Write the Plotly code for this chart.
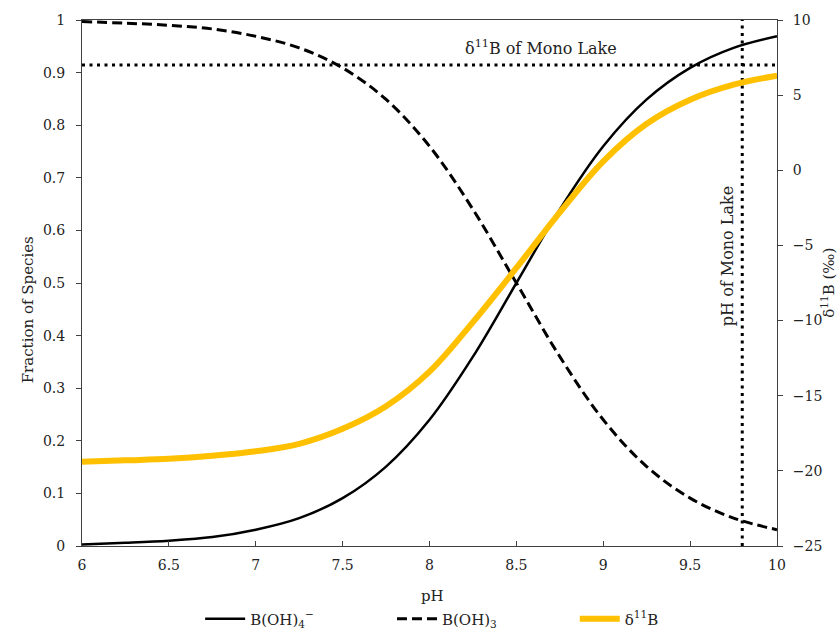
import plotly.graph_objects as go

# pH values
ph = [6.0, 6.25, 6.5, 6.75, 7.0, 7.25, 7.5, 7.75, 8.0, 8.25, 8.5, 8.75, 9.0, 9.25, 9.5, 9.75, 10.0]
# Fraction of borate B(OH)4-
borate = [0.003, 0.006, 0.010, 0.017, 0.031, 0.053, 0.091, 0.151, 0.240, 0.360, 0.500, 0.640, 0.760, 0.849, 0.909, 0.947, 0.969]
# Fraction of boric acid B(OH)3
boric = [0.997, 0.994, 0.990, 0.983, 0.969, 0.947, 0.909, 0.849, 0.760, 0.640, 0.500, 0.360, 0.240, 0.151, 0.091, 0.053, 0.031]
# delta 11B of borate (permil)
d11b = [-19.4, -19.3, -19.2, -19.0, -18.7, -18.2, -17.2, -15.7, -13.4, -10.1, -6.5, -2.8, 0.6, 3.1, 4.7, 5.7, 6.3]

mono_d11b = 7.0   # right-axis value of horizontal dotted line
mono_ph = 9.8     # pH of Mono Lake

x_ticks = [6, 6.5, 7, 7.5, 8, 8.5, 9, 9.5, 10]
x_tick_text = ["6", "6.5", "7", "7.5", "8", "8.5", "9", "9.5", "10"]
y_ticks = [0, 0.1, 0.2, 0.3, 0.4, 0.5, 0.6, 0.7, 0.8, 0.9, 1]
y_tick_text = ["0", "0.1", "0.2", "0.3", "0.4", "0.5", "0.6", "0.7", "0.8", "0.9", "1"]
y2_ticks = [-25, -20, -15, -10, -5, 0, 5, 10]

FONT = "DejaVu Serif"
AX = "#404040"
TXT = "#222222"
GOLD = "#FFC000"

fig = go.Figure()

# reference lines
fig.add_trace(go.Scatter(x=[6, 10], y=[mono_d11b, mono_d11b], yaxis="y2", mode="lines",
                         line=dict(color="black", width=3, dash="3px,4.5px"), showlegend=False, hoverinfo="skip"))
fig.add_trace(go.Scatter(x=[mono_ph, mono_ph], y=[0, 1], mode="lines",
                         line=dict(color="black", width=3, dash="3px,4.5px"), showlegend=False, hoverinfo="skip"))

fig.add_trace(go.Scatter(x=ph, y=borate, mode="lines", name="B(OH)<sub>4</sub><sup>−</sup>",
                         line=dict(color="black", width=2.5, shape="spline"), legend="legend"))
fig.add_trace(go.Scatter(x=ph, y=boric, mode="lines", name="B(OH)<sub>3</sub>",
                         line=dict(color="black", width=3, dash="10px,5px", shape="spline"), legend="legend2"))
fig.add_trace(go.Scatter(x=ph, y=d11b, mode="lines", name="δ<sup>11</sup>B", yaxis="y2",
                         line=dict(color=GOLD, width=6, shape="spline"), legend="legend3"))

leg_common = dict(orientation="h", yanchor="middle", y=-0.139, xanchor="left",
                  font=dict(family=FONT, size=15, color=TXT), bgcolor="rgba(0,0,0,0)",
                  itemwidth=40, tracegroupgap=0)

TICKF = dict(family=FONT, size=14, color=TXT)
TITF = dict(family=FONT, size=15, color=TXT)

fig.update_layout(
    width=839, height=630,
    margin=dict(l=82, r=62, t=20, b=84, autoexpand=False),
    paper_bgcolor="white", plot_bgcolor="white",
    font=dict(family=FONT, size=15, color=TXT),
    xaxis=dict(range=[6, 10], tickvals=x_ticks, ticktext=x_tick_text, showgrid=False, zeroline=False,
               showline=True, linecolor=AX, linewidth=1, mirror=True, ticks="inside", ticklen=5,
               tickcolor=AX, tickfont=TICKF, automargin=False, ticklabelstandoff=6),
    yaxis=dict(range=[0, 1], tickvals=y_ticks, ticktext=y_tick_text, showgrid=False, zeroline=False,
               showline=True, linecolor=AX, linewidth=1, ticks="outside", ticklen=5, tickcolor=AX,
               tickfont=TICKF, automargin=False, ticklabelstandoff=8),
    yaxis2=dict(range=[-25, 10], tickvals=y2_ticks, overlaying="y", side="right", showgrid=False,
                zeroline=False, showline=True, linecolor=AX, linewidth=1, ticks="outside", ticklen=5,
                tickcolor=AX, tickfont=TICKF, automargin=False, ticklabelstandoff=7),
    yaxis3=dict(range=[0, 1], tickvals=y_ticks, overlaying="y", side="left", showticklabels=False,
                showgrid=False, zeroline=False, ticks="inside", ticklen=5, tickcolor=AX, showline=False),
    yaxis4=dict(range=[-25, 10], tickvals=y2_ticks, overlaying="y", side="right", showticklabels=False,
                showgrid=False, zeroline=False, ticks="inside", ticklen=5, tickcolor=AX, showline=False),
    legend=dict(x=0.170, **leg_common),
    legend2=dict(x=0.446, **leg_common),
    legend3=dict(x=0.709, **leg_common),
    annotations=[
        dict(x=0.504, y=-0.095, xref="paper", yref="paper", text="pH", showarrow=False,
             xanchor="center", yanchor="middle", font=TITF),
        dict(x=-0.0777, y=0.45, xref="paper", yref="paper", text="Fraction of Species", showarrow=False,
             textangle=-90, xanchor="center", yanchor="middle", font=TITF),
        dict(x=1.073, y=0.50, xref="paper", yref="paper", text="δ<sup>11</sup>B (‰)", showarrow=False,
             textangle=-90, xanchor="center", yanchor="middle", font=TITF),
        dict(x=8.64, y=0.9468, xref="x", yref="paper", text="δ<sup>11</sup>B of Mono Lake",
             showarrow=False, xanchor="center", yanchor="middle", font=dict(family=FONT, size=16, color=TXT)),
        dict(x=0.928, y=0.551, xref="paper", yref="paper", text="pH of Mono Lake", textangle=-90,
             showarrow=False, xanchor="center", yanchor="middle", font=dict(family=FONT, size=16, color=TXT)),
    ],
)

fig.write_html("out.html", config={"displayModeBar": False},
               post_script="document.body.style.margin='0px';document.body.style.overflow='hidden';")
